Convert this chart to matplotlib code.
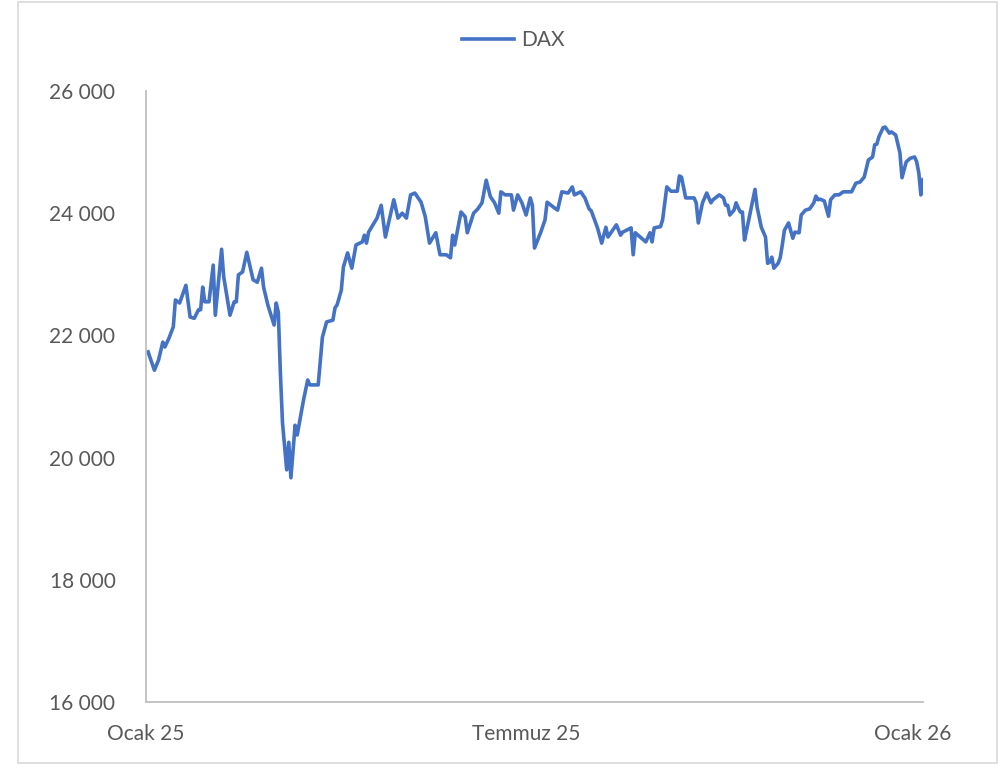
import pandas as pd
import numpy as np
import matplotlib
matplotlib.use('Agg')
from matplotlib import pyplot as plt
from matplotlib.ticker import FuncFormatter
from matplotlib.patches import Rectangle

# DAX daily closes (days counted from 30 Jan 2025)
start = pd.Timestamp('2025-01-30')
day = [1, 4, 6, 8, 9, 11, 13, 14, 16, 19, 21, 23, 25, 26, 27, 28, 30, 32, 33, 36,
       37, 40, 42, 43, 44, 46, 48, 51, 53, 55, 56, 58, 61, 62, 63, 64, 65, 67, 68, 69,
       71, 72, 75, 77, 78, 82, 84, 86, 89, 90, 91, 93, 94, 96, 98, 100, 103, 104, 105, 106,
       110, 112, 114, 118, 120, 122, 124, 126, 128, 131, 133, 135, 138, 140, 143, 145, 146, 147, 150, 152,
       153, 156, 158, 160, 162, 164, 166, 168, 169, 171, 174, 175, 177, 179, 181, 183, 184, 185, 188, 190,
       191, 194, 196, 198, 201, 203, 204, 207, 209, 211, 212, 215, 217, 219, 220, 224, 226, 227, 231, 232,
       233, 236, 238, 240, 241, 242, 245, 246, 248, 250, 253, 254, 255, 257, 261, 262, 263, 265, 267, 269,
       270, 273, 275, 276, 277, 278, 280, 281, 282, 283, 284, 285, 286, 290, 291, 293, 295, 296, 297, 298,
       299, 301, 302, 303, 304, 306, 308, 309, 311, 312, 314, 316, 318, 319, 320, 321, 323, 325, 326, 328,
       330, 332, 336, 338, 340, 342, 344, 346, 347, 348, 349, 351, 352, 354, 355, 357, 359, 360, 362, 364,
       366, 367, 368, 369, 370]
dax = [21730, 21430, 21600, 21890, 21810, 21960, 22140, 22580, 22530, 22820, 22300, 22280, 22420, 22420, 22790, 22550, 22550, 23150, 22330, 23410,
       22960, 22330, 22550, 22550, 22990, 23040, 23360, 22910, 22870, 23100, 22790, 22500, 22170, 22530, 22380, 21380, 20570, 19800, 20250, 19670,
       20530, 20370, 20940, 21270, 21190, 21190, 21970, 22220, 22250, 22450, 22500, 22740, 23120, 23350, 23100, 23480, 23530, 23640, 23510, 23690,
       23920, 24130, 23610, 24220, 23920, 24000, 23920, 24300, 24330, 24180, 23940, 23510, 23680, 23320, 23320, 23270, 23640, 23480, 24020, 23940,
       23680, 24000, 24070, 24170, 24540, 24270, 24170, 24000, 24350, 24300, 24300, 24050, 24300, 24170, 23970, 24250, 24130, 23430, 23690, 23890,
       24180, 24100, 24050, 24350, 24330, 24430, 24300, 24350, 24250, 24070, 24040, 23760, 23510, 23770, 23610, 23810, 23640, 23690, 23760, 23320,
       23680, 23590, 23530, 23680, 23530, 23760, 23780, 23890, 24430, 24360, 24360, 24610, 24590, 24250, 24250, 24170, 23840, 24170, 24330, 24170,
       24220, 24300, 24250, 24130, 24130, 23970, 24050, 24170, 24090, 24020, 24020, 23560, 23720, 24390, 24100, 23770, 23610, 23180, 23200, 23280,
       23100, 23180, 23270, 23480, 23720, 23840, 23590, 23690, 23680, 23970, 24050, 24070, 24170, 24280, 24220, 24230, 24200, 23950, 24220, 24300,
       24300, 24350, 24350, 24490, 24510, 24590, 24870, 24920, 25120, 25130, 25250, 25400, 25410, 25310, 25330, 25280, 24990, 24580, 24840, 24900,
       24920, 24840, 24660, 24300, 24550]
tick_dates = ['2025-01-30', '2025-07-30', '2026-01-30']
tick_labels = ['Ocak 25', 'Temmuz 25', 'Ocak 26']
y_ticks = [16000, 18000, 20000, 22000, 24000, 26000]

dates = start + pd.to_timedelta(day, unit='D')

plt.rcParams['font.family'] = ['Lato', 'DejaVu Sans']

fig = plt.figure(figsize=(9.99, 7.66), dpi=100)
ax = fig.add_axes([146/999, 1-702/766, (923-146)/999, (702-91)/766])

ax.plot(dates, dax, color='#4472C4', lw=2.6, label='DAX')

ax.set_xlim(start, dates[-1])
ax.set_ylim(16000, 26000)
ax.set_yticks(y_ticks)
ax.yaxis.set_major_formatter(FuncFormatter(lambda v, p: f'{v:,.0f}'.replace(',', ' ')))
ax.set_xticks(pd.to_datetime(tick_dates))
ax.set_xticklabels(tick_labels)

for s in ['top', 'right']:
    ax.spines[s].set_visible(False)
for s in ['left', 'bottom']:
    ax.spines[s].set_color('#bfbfbf')
    ax.spines[s].set_linewidth(1.3)
ax.tick_params(axis='both', length=0, labelsize=15, colors='#595959')
ax.tick_params(axis='y', pad=22)
ax.tick_params(axis='x', pad=16)

fig.legend(loc='center', bbox_to_anchor=(513/999, 1-40/766), frameon=False,
           fontsize=15, handlelength=2.5, handletextpad=0.35, labelcolor='#595959')

fig.patches.append(Rectangle((18/999, 3/766), (997-18)/999, (764-3)/766,
                             transform=fig.transFigure, fill=False,
                             edgecolor='#d9d9d9', lw=1.2))

plt.savefig('out.png', dpi=100)
